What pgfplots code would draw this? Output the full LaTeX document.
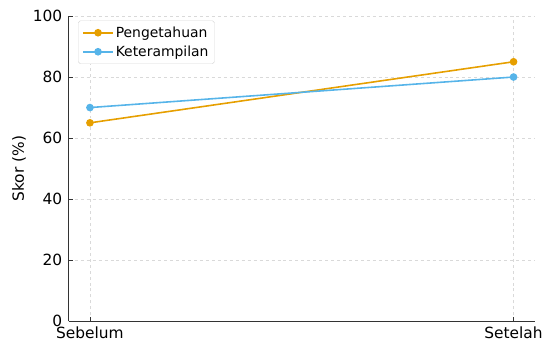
\documentclass[border=0pt]{standalone}
\usepackage{pgfplots}
\pgfplotsset{compat=1.18}
\usepackage{fontspec}
\setmainfont{DejaVu Sans}
\definecolor{cOrange}{HTML}{E69F00}
\definecolor{cBlue}{HTML}{56B4E9}
\begin{document}
\begin{tikzpicture}
\begin{axis}[
  scale only axis,
  width=467bp, height=306bp,
  xmin=-0.05, xmax=1.05,
  ymin=0, ymax=100,
  xtick={0,1}, xticklabels={Sebelum,Setelah},
  ytick={0,20,40,60,80,100},
  axis x line*=bottom, axis y line*=left,
  axis line style={line width=1pt, black!80},
  tick style={black!80, line width=0.8pt},
  major tick length=4bp,
  grid=major,
  grid style={dashed, gray!30, line width=0.5pt},
  ylabel={Skor (\%)},
  ylabel style={font=\fontsize{15.5}{18}\selectfont},
  tick label style={font=\fontsize{15.5}{18}\selectfont},
  yticklabel style={xshift=-3bp},
  xticklabel style={yshift=-2bp},
  /pgf/number format/assume math mode=true,
  legend style={font=\fontsize{14}{17}\selectfont, draw=gray!30, rounded corners=2pt, at={(0.02,0.985)}, anchor=north west, row sep=3pt, inner sep=4pt},
  legend cell align=left,
  legend image code/.code={\draw[mark repeat=2,mark phase=2,#1] plot coordinates {(0bp,0bp) (15bp,0bp) (30bp,0bp)};},
]
\addplot[color=cOrange, line width=1.6pt, mark=*, mark size=3pt] coordinates {(0,65) (1,85)};
\addlegendentry{Pengetahuan}
\addplot[color=cBlue, line width=1.6pt, mark=*, mark size=3pt] coordinates {(0,70) (1,80)};
\addlegendentry{Keterampilan}
\end{axis}
\path ([yshift=16bp]current axis.north) coordinate (topspace);
\path ([xshift=-9bp]current bounding box.west) coordinate (leftspace);
\end{tikzpicture}
\end{document}
